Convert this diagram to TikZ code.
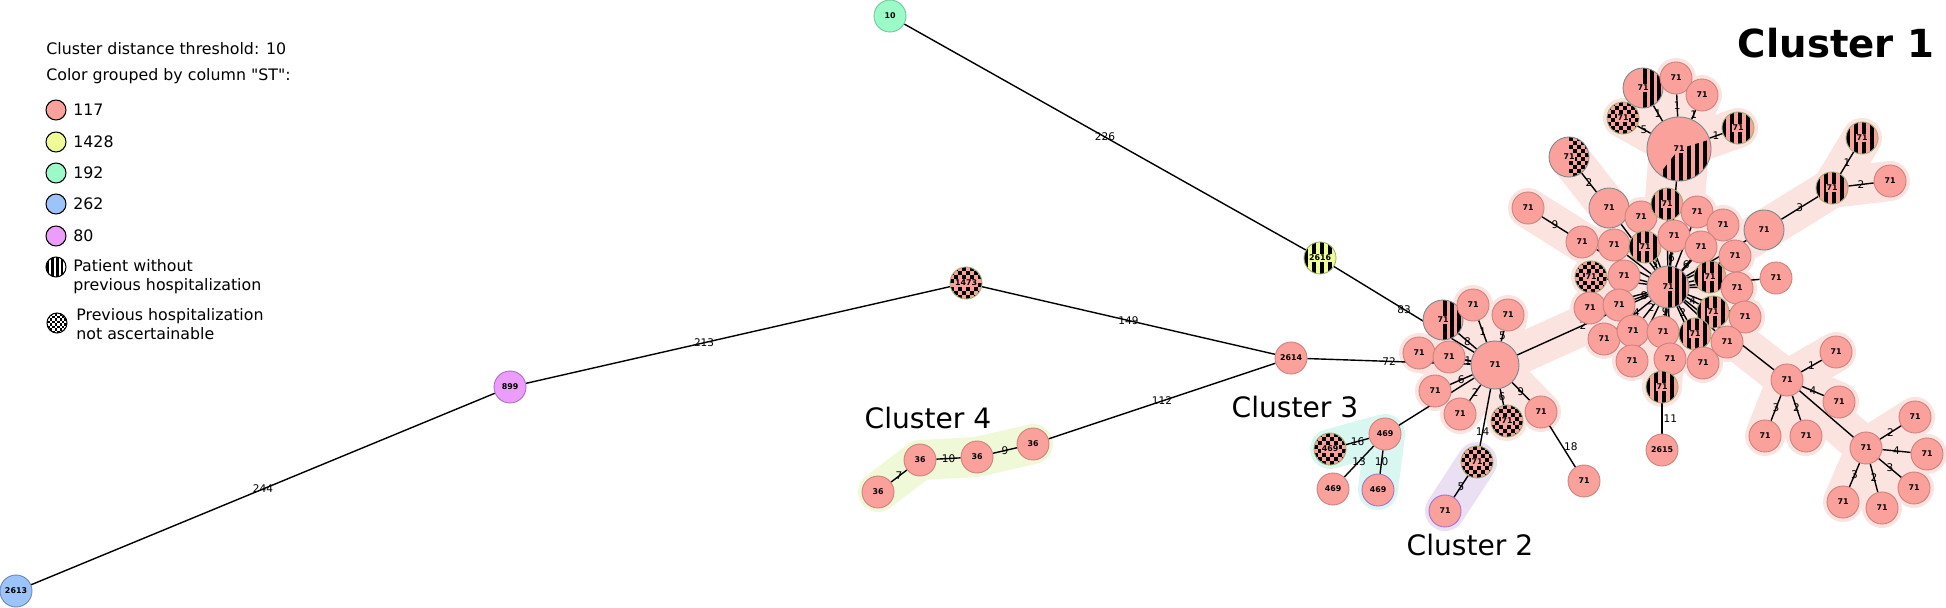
\documentclass[tikz,border=0pt]{standalone}
\usepackage{fontspec}
\setmainfont{DejaVu Sans}[Ligatures=TeXOff]
\usepackage{xcolor}
\usepackage{tikz}

% node colours (column ST)
\definecolor{st117}{RGB}{250,161,156}
\definecolor{st1428}{RGB}{240,252,150}
\definecolor{st192}{RGB}{156,250,200}
\definecolor{st262}{RGB}{156,196,250}
\definecolor{st80}{RGB}{236,156,250}
% outlines
\definecolor{lnpk}{RGB}{205,128,124}
\definecolor{lngr}{RGB}{125,135,140}
\definecolor{lnol}{RGB}{160,175,110}
\definecolor{lnvi}{RGB}{170,110,200}
\definecolor{lnmi}{RGB}{110,200,150}
\definecolor{lnbl}{RGB}{105,135,180}
% cluster shading
\definecolor{cbandA}{RGB}{251,227,224}
\definecolor{cbandB}{RGB}{234,223,243}
\definecolor{cbandC}{RGB}{217,247,241}
\definecolor{cbandD}{RGB}{239,249,216}

\pgfdeclarelayer{bands}
\pgfdeclarelayer{links}
\pgfsetlayers{bands,links,main}

\newcommand\dostripes[2]{%
  \foreach \k in {-8,...,7}
    \fill[black] ([xshift=\k*#1, yshift=-1.5cm]path picture bounding box.center)
      rectangle ++(#2,3cm);}
\newcommand\dochecks[1]{%
  \foreach \i in {-8,-6,...,6}
    \foreach \j in {-8,-6,...,6} {
      \fill[black] ([xshift=\i*#1, yshift=\j*#1]path picture bounding box.center)
        rectangle ++(#1,#1);
      \fill[black] ([xshift=\i*#1+#1, yshift=\j*#1+#1]path picture bounding box.center)
        rectangle ++(#1,#1);}}
% label on a patterned node
\newcommand\onpk[1]{{\setlength\fboxsep{0.4pt}\colorbox{st117}{#1}}}
\newcommand\onyl[1]{{\setlength\fboxsep{0.4pt}\colorbox{st1428}{#1}}}

\begin{document}
\begin{tikzpicture}[x=0.02cm, y=-0.02cm,
  nd/.style={circle, draw=lnpk, fill=st117, line width=0.5pt, inner sep=0pt,
    minimum size=0.64cm, font=\fontsize{4.5}{5}\selectfont\bfseries},
  r20/.style={minimum size=0.8cm, draw=lngr},
  r21/.style={minimum size=0.84cm, draw=lngr},
  r24/.style={minimum size=0.96cm, draw=lngr},
  r32/.style={minimum size=1.28cm, draw=lngr},
  striped/.style={draw=lnol, path picture={\dostripes{0.16cm}{0.08cm}}},
  halfst/.style={path picture={\clip ([yshift=-2cm]path picture bounding box.center)
    rectangle ++(2cm,4cm); \dostripes{0.14cm}{0.07cm}}},
  piest/.style={path picture={\clip (path picture bounding box.center) -- ++(-128:2cm)
    arc[start angle=-128, end angle=17, radius=2cm] -- cycle; \dostripes{0.16cm}{0.08cm}}},
  checker/.style={draw=lnol, path picture={\dochecks{0.08cm}}},
  halfck/.style={path picture={\clip ([yshift=-2cm]path picture bounding box.center)
    rectangle ++(2cm,4cm); \dochecks{0.08cm}}},
  lnk/.style={line width=0.8pt},
  lbl/.style={font=\fontsize{6}{7}\selectfont, inner sep=0.5pt},
  bandA/.style={line width=0.8cm, line cap=round, line join=round, cbandA},
  bandB/.style={line width=0.8cm, line cap=round, line join=round, cbandB},
  bandC/.style={line width=0.8cm, line cap=round, line join=round, cbandC},
  bandD/.style={line width=0.8cm, line cap=round, line join=round, cbandD},
  leg/.style={circle, draw=black, line width=0.6pt, minimum size=0.4cm, inner sep=0pt},
  txt/.style={font=\fontsize{9}{10.8}\selectfont, inner sep=0pt, anchor=west, align=left},
  clbl/.style={font=\fontsize{16}{18}\selectfont}]
  \useasboundingbox (0,0) rectangle (1946,608);

  % Legend
  \node[txt] (thr) at (46,49) {Cluster distance threshold: 10};
  \node[txt] (grp) at (46,76) {Color grouped by column "ST":};
  \node[leg, fill=st117] (k117) at (56,110) {};
  \node[txt] (t117) at (73,110) {117};
  \node[leg, fill=st1428] (k1428) at (56,142) {};
  \node[txt] (t1428) at (73,142) {1428};
  \node[leg, fill=st192] (k192) at (56,173) {};
  \node[txt] (t192) at (73,173) {192};
  \node[leg, fill=st262] (k262) at (56,204) {};
  \node[txt] (t262) at (73,204) {262};
  \node[leg, fill=st80] (k80) at (56,236) {};
  \node[txt] (t80) at (73,236) {80};
  \node[leg, fill=white, path picture={\dostripes{0.1cm}{0.05cm}}] (kst) at (56,267) {};
  \node[txt] (tst) at (73,276.5) {Patient without\\previous hospitalization};
  \node[leg, fill=white, path picture={\dochecks{0.05cm}}] (kck) at (57,323) {};
  \node[txt] (tck) at (76,324.5) {Previous hospitalization\\not ascertainable};

  % Cluster titles
  \node[font=\fontsize{22}{26}\selectfont\bfseries] (cl1) at (1836,43) {Cluster 1};
  \node[clbl] (cl2) at (1470,545) {Cluster 2};
  \node[clbl] (cl3) at (1295,407) {Cluster 3};
  \node[clbl] (cl4) at (928,418) {Cluster 4};

  % Outlying samples
  \node[nd, fill=st262, draw=lnbl] (n2613) at (16,591) {2613};
  \node[nd, fill=st80, draw=lnvi] (n899) at (510,387) {899};
  \node[nd, checker] (n1473) at (966,283) {\onpk{1473}};
  \node[nd, fill=st192, draw=lnmi] (n10) at (890,16) {10};
  \node[nd, striped, fill=st1428] (n2616) at (1320,258) {\onyl{2616}};
  \node[nd] (n2614) at (1291,358) {2614};

  % Cluster 4
  \node[nd] (a36) at (878,492) {36};
  \node[nd] (b36) at (920,460) {36};
  \node[nd] (c36) at (977,457) {36};
  \node[nd] (d36) at (1033,444) {36};

  % Cluster 3 and 2
  \node[nd] (m469) at (1385,434) {469};
  \node[nd, checker] (k469) at (1330,449) {\onpk{469}};
  \node[nd] (p469) at (1333,489) {469};
  \node[nd, draw=lnvi] (q469) at (1378,490) {469};
  \node[nd, checker] (ck2) at (1477,462) {\onpk{71}};
  \node[nd, draw=lnvi] (v2) at (1445,511) {71};

  % Cluster 1, first hub
  \node[nd, r24] (hubA) at (1495,365) {71};
  \node[nd, r20, halfst] (sA1) at (1443,320) {\onpk{71}};
  \node[nd] (A2) at (1473,305) {71};
  \node[nd] (A3) at (1508,315) {71};
  \node[nd] (A4) at (1419,353) {71};
  \node[nd] (A5) at (1449,357) {71};
  \node[nd] (A6) at (1435,391) {71};
  \node[nd] (A7) at (1460,414) {71};
  \node[nd, checker] (ckA8) at (1507,421) {\onpk{71}};
  \node[nd] (A9) at (1541,412) {71};
  \node[nd] (A10) at (1584,481) {71};

  % Cluster 1, top branches
  \node[nd, r32, piest] (pie) at (1679,149) {\onpk{71}};
  \node[nd, r20, halfst] (P1) at (1643,88) {\onpk{71}};
  \node[nd] (P2) at (1676,78) {71};
  \node[nd] (P3) at (1702,95) {71};
  \node[nd, checker] (ckP4) at (1623,118) {\onpk{71}};
  \node[nd, striped] (stP5) at (1738,128) {\onpk{71}};
  \node[nd, r20, halfck] (ckpie) at (1569,157) {\onpk{71}};
  \node[nd, r20] (L1) at (1609,208) {71};
  \node[nd] (L2) at (1528,208) {71};
  \node[nd] (L3) at (1582,242) {71};
  \node[nd, r20] (R1) at (1764,230) {71};
  \node[nd, striped] (stR2) at (1832,188) {\onpk{71}};
  \node[nd, striped] (stR3) at (1862,138) {\onpk{71}};
  \node[nd] (R4) at (1890,181) {71};

  % Cluster 1, ring round the second hub
  \node[nd] (r01) at (1641,217) {71};
  \node[nd, striped] (r02) at (1667,204) {\onpk{71}};
  \node[nd] (r03) at (1697,212) {71};
  \node[nd] (r04) at (1723,225) {71};
  \node[nd] (r05) at (1614,245) {71};
  \node[nd, striped] (r06) at (1645,247) {\onpk{71}};
  \node[nd] (r07) at (1674,236) {71};
  \node[nd] (r08) at (1701,247) {71};
  \node[nd] (r09) at (1735,256) {71};
  \node[nd, checker] (r10) at (1591,277) {\onpk{71}};
  \node[nd] (r11) at (1624,276) {71};
  \node[nd, striped] (r12) at (1710,277) {\onpk{71}};
  \node[nd] (r13) at (1737,288) {71};
  \node[nd] (r14) at (1776,278) {71};
  \node[nd] (r15) at (1590,308) {71};
  \node[nd] (r16) at (1619,305) {71};
  \node[nd, striped] (r17) at (1713,312) {\onpk{71}};
  \node[nd] (r18) at (1745,317) {71};
  \node[nd] (r19) at (1604,339) {71};
  \node[nd] (r20) at (1633,331) {71};
  \node[nd] (r21) at (1663,332) {71};
  \node[nd, striped] (r22) at (1695,334) {\onpk{71}};
  \node[nd] (r23) at (1727,342) {71};
  \node[nd] (r24) at (1632,361) {71};
  \node[nd] (r25) at (1670,359) {71};
  \node[nd] (r26) at (1703,363) {71};
  \node[nd, r21, halfst] (hubB) at (1668,287) {\onpk{71}};
  \node[nd, striped] (stB) at (1662,387) {\onpk{71}};
  \node[nd] (n2615) at (1662,450) {2615};

  % Cluster 1, lower right branch
  \node[nd] (S) at (1787,380) {71};
  \node[nd] (S1) at (1836,352) {71};
  \node[nd] (S2) at (1839,402) {71};
  \node[nd] (S3) at (1765,436) {71};
  \node[nd] (S4) at (1806,436) {71};
  \node[nd] (T) at (1866,448) {71};
  \node[nd] (T1) at (1915,417) {71};
  \node[nd] (T2) at (1927,454) {71};
  \node[nd] (T3) at (1914,488) {71};
  \node[nd] (T4) at (1843,502) {71};
  \node[nd] (T5) at (1882,508) {71};

  % Cluster shading
  \begin{pgfonlayer}{bands}
    \draw[bandD] (a36.center) -- (b36.center) -- (c36.center) -- (d36.center);
    \draw[bandC] (k469.center) -- (m469.center) -- (q469.center);
    \draw[bandB] (ck2.center) -- (v2.center);
    \draw[bandA, line width=1.2cm] (pie.center) -- (hubB.center);
    \foreach \v in {sA1,A2,A3,A4,A5,A6,A7,ckA8,A9,hubB}
      \draw[bandA] (hubA.center) -- (\v.center);
    \foreach \v in {r01,r02,r03,r04,r05,r06,r07,r08,r09,r10,r11,r12,r13,r15,r16,r17,
        r18,r19,r20,r21,r22,r23,r24,r25,r26,L1,L3,R1,stB,S}
      \draw[bandA] (hubB.center) -- (\v.center);
    \foreach \v in {P1,P2,P3,ckP4,stP5}
      \draw[bandA] (pie.center) -- (\v.center);
    \draw[bandA] (ckpie.center) -- (L1.center);
    \draw[bandA] (L2.center) -- (L3.center);
    \draw[bandA] (R1.center) -- (stR2.center) -- (stR3.center);
    \draw[bandA] (stR2.center) -- (R4.center);
    \foreach \v in {S1,S2,S3,S4,T}
      \draw[bandA] (S.center) -- (\v.center);
    \foreach \v in {T1,T2,T3,T4,T5}
      \draw[bandA] (T.center) -- (\v.center);
  \end{pgfonlayer}

  % Links
  \begin{pgfonlayer}{links}
    \draw[lnk] (n2613) -- node[lbl]{244} (n899);
    \draw[lnk] (n899) -- node[lbl, pos=0.42]{213} (n1473);
    \draw[lnk] (n1473) -- node[lbl]{149} (n2614);
    \draw[lnk] (n10) -- node[lbl]{226} (n2616);
    \draw[lnk] (n2616) -- node[lbl]{83} (hubA);
    \draw[lnk] (n2614) -- node[lbl]{72} (hubA);
    \draw[lnk] (n2614) -- node[lbl]{112} (d36);
    \draw[lnk] (a36) -- node[lbl]{7} (b36);
    \draw[lnk] (b36) -- node[lbl]{10} (c36);
    \draw[lnk] (c36) -- node[lbl]{9} (d36);
    \draw[lnk] (hubA) -- node[lbl]{8} (sA1);
    \draw[lnk] (hubA) -- node[lbl]{1} (A2);
    \draw[lnk] (hubA) -- node[lbl]{5} (A3);
    \draw[lnk] (hubA) -- (A4);
    \draw[lnk] (hubA) -- node[lbl]{1} (A5);
    \draw[lnk] (hubA) -- node[lbl]{6} (A6);
    \draw[lnk] (hubA) -- node[lbl]{2} (A7);
    \draw[lnk] (hubA) -- node[lbl]{6} (ckA8);
    \draw[lnk] (hubA) -- node[lbl]{9} (A9);
    \draw[lnk] (A9) -- node[lbl, right]{18} (A10);
    \draw[lnk] (hubA) -- node[lbl, pos=0.75]{14} (ck2);
    \draw[lnk] (ck2) -- node[lbl]{5} (v2);
    \draw[lnk] (hubA) -- (m469);
    \draw[lnk] (m469) -- node[lbl]{16} (k469);
    \draw[lnk] (m469) -- node[lbl]{13} (p469);
    \draw[lnk] (m469) -- node[lbl]{10} (q469);
    \draw[lnk] (hubA) -- node[lbl]{2} (hubB);
    \draw[lnk] (hubB) -- node[lbl, pos=0.65]{3} (r06);
    \draw[lnk] (hubB) -- node[lbl, pos=0.6]{6} (r07);
    \draw[lnk] (hubB) -- node[lbl]{6} (r08);
    \draw[lnk] (hubB) -- node[lbl]{4} (r17);
    \draw[lnk] (hubB) -- node[lbl]{2} (r22);
    \draw[lnk] (hubB) -- node[lbl]{9} (r21);
    \draw[lnk] (hubB) -- node[lbl, pos=0.3]{2} (r20);
    \draw[lnk] (hubB) -- node[lbl, pos=0.43]{4} (r19);
    \draw[lnk] (hubB) -- node[lbl, pos=0.3]{8} (r16);
    \foreach \v in {r01,r02,r03,r04,r05,r09,r10,r11,r12,r13,r14,r15,r18,r23,r24,r25,r26,
        L1,L3,R1,pie,stB,S}
      \draw[lnk] (hubB) -- (\v);
    \draw[lnk] (pie) -- node[lbl]{1} (P1);
    \draw[lnk] (pie) -- node[lbl]{1} (P2);
    \draw[lnk] (pie) -- node[lbl]{1} (P3);
    \draw[lnk] (pie) -- node[lbl]{5} (ckP4);
    \draw[lnk] (pie) -- node[lbl]{1} (stP5);
    \draw[lnk] (ckpie) -- node[lbl]{2} (L1);
    \draw[lnk] (L2) -- node[lbl]{9} (L3);
    \draw[lnk] (R1) -- node[lbl]{3} (stR2);
    \draw[lnk] (stR2) -- node[lbl]{1} (stR3);
    \draw[lnk] (stR2) -- node[lbl]{2} (R4);
    \draw[lnk] (stB) -- node[lbl, right]{11} (n2615);
    \draw[lnk] (S) -- node[lbl]{1} (S1);
    \draw[lnk] (S) -- node[lbl]{4} (S2);
    \draw[lnk] (S) -- node[lbl]{3} (S3);
    \draw[lnk] (S) -- node[lbl]{2} (S4);
    \draw[lnk] (S) -- (T);
    \draw[lnk] (T) -- node[lbl]{2} (T1);
    \draw[lnk] (T) -- node[lbl]{4} (T2);
    \draw[lnk] (T) -- node[lbl]{3} (T3);
    \draw[lnk] (T) -- node[lbl]{3} (T4);
    \draw[lnk] (T) -- node[lbl]{2} (T5);
  \end{pgfonlayer}
\end{tikzpicture}
\end{document}
